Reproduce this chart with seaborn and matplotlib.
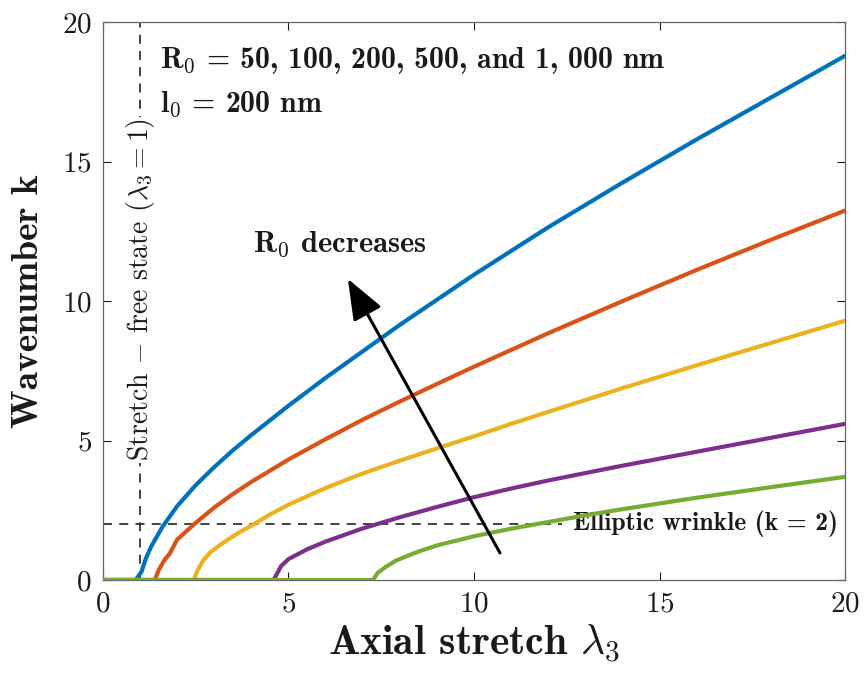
import numpy as np
import pandas as pd
import matplotlib
matplotlib.use("Agg")
import matplotlib.pyplot as plt
import seaborn as sns

# ---- data ----
radii = ["1000 nm", "500 nm", "200 nm", "100 nm", "50 nm"]  # order blue..green
colors = ["#0072BD", "#D95319", "#EDB120", "#7E2F8E", "#77AC30"]

lam_blue = [0, 0.88, 1.04, 1.15, 1.3, 1.6, 2.0, 2.5, 3, 3.5, 4, 5, 6, 7, 8, 9, 10, 11, 12, 14, 16, 18, 20]
k_blue = [0, 0, 0.3, 0.75, 1.2, 1.9, 2.65, 3.4, 4.05, 4.65, 5.2, 6.25, 7.25, 8.2, 9.15, 10.05, 10.95, 11.8, 12.65, 14.25, 15.8, 17.3, 18.8]

lam_orange = [0, 1.4, 1.5, 1.65, 1.8, 2.0, 2.5, 3, 3.5, 4, 5, 6, 7, 8, 9, 10, 11, 12, 14, 16, 18, 20]
k_orange = [0, 0, 0.35, 0.7, 0.95, 1.45, 2.05, 2.6, 3.08, 3.52, 4.32, 5.05, 5.75, 6.4, 7.03, 7.65, 8.25, 8.85, 10.0, 11.12, 12.2, 13.25]

lam_yellow = [0, 2.45, 2.55, 2.7, 2.9, 3.2, 3.6, 4, 4.5, 5, 6, 7, 8, 9, 10, 11, 12, 14, 16, 18, 20]
k_yellow = [0, 0, 0.35, 0.7, 1.0, 1.3, 1.65, 1.95, 2.35, 2.7, 3.3, 3.82, 4.28, 4.72, 5.15, 5.6, 6.03, 6.88, 7.7, 8.5, 9.3]

lam_purple = [0, 4.6, 4.7, 4.8, 5.0, 5.5, 6, 7, 8, 9, 10, 11, 12, 14, 16, 18, 20]
k_purple = [0, 0, 0.25, 0.5, 0.75, 1.1, 1.38, 1.85, 2.25, 2.62, 2.97, 3.28, 3.57, 4.1, 4.6, 5.1, 5.6]

lam_green = [0, 7.28, 7.4, 7.6, 7.9, 8.5, 9, 10, 11, 12, 13, 14, 16, 18, 20]
k_green = [0, 0, 0.25, 0.45, 0.7, 1.02, 1.24, 1.57, 1.84, 2.08, 2.32, 2.54, 2.95, 3.33, 3.7]

xticks = [0, 5, 10, 15, 20]
yticks = [0, 5, 10, 15, 20]

# ---- style ----
sns.set_style("ticks")
plt.rcParams["font.family"] = ["cmr10", "DejaVu Serif"]
plt.rcParams["mathtext.fontset"] = "cm"
plt.rcParams["axes.unicode_minus"] = False
plt.rcParams["axes.formatter.use_mathtext"] = True
plt.rcParams["text.color"] = "0.1"
plt.rcParams["axes.labelcolor"] = "0.1"

frames = []
for name, lx, ky in zip(radii,
                        [lam_blue, lam_orange, lam_yellow, lam_purple, lam_green],
                        [k_blue, k_orange, k_yellow, k_purple, k_green]):
    frames.append(pd.DataFrame({"lam": lx, "k": ky, "R0": name}))
df = pd.concat(frames, ignore_index=True)

fig = plt.figure(figsize=(8.65, 6.76), dpi=100)
ax = fig.add_axes([0.119, 0.142, 0.858, 0.825])

# reference lines
ax.axvline(1, color="0.2", lw=1.3, ls=(0, (5, 4)), zorder=1)
ax.axhline(2, color="0.2", lw=1.3, ls=(0, (5, 4)), zorder=1)

sns.lineplot(data=df, x="lam", y="k", hue="R0", hue_order=radii, palette=colors,
             lw=3.0, legend=False, sort=False, estimator=None, ax=ax, zorder=3)

ax.set_xlim(0, 20)
ax.set_ylim(0, 20)
ax.set_xticks(xticks)
ax.set_yticks(yticks)
ax.tick_params(direction="in", length=6, width=0.8, top=True, right=True,
               labelsize=21, colors="0.1", pad=8)
for s in ax.spines.values():
    s.set_visible(True)
    s.set_color("0.4")
    s.set_linewidth(0.9)

bold = dict(family="cmb10")
ax.set_xlabel(r"Axial stretch $\lambda_3$", fontsize=30, labelpad=4, **bold)
ax.set_ylabel("Wavenumber k", fontsize=27, labelpad=12, **bold)

# annotations
ax.text(1.54, 18.64, r"R$_\mathbf{0}$ = 50, 100, 200, 500, and 1, 000 nm",
        fontsize=21.5, ha="left", va="center", zorder=5, **bold)
ax.text(1.54, 17.06, r"l$_\mathbf{0}$ = 200 nm",
        fontsize=21.5, ha="left", va="center", zorder=5, **bold)
ax.text(4.04, 12.05, r"R$_\mathbf{0}$ decreases",
        fontsize=22, ha="left", va="center", zorder=5, **bold)
ax.text(12.67, 2.0, "Elliptic wrinkle (k = 2)",
        fontsize=18.5, ha="left", va="center", zorder=2,
        bbox=dict(facecolor="white", edgecolor="none", pad=8), **bold)
ax.text(1.0, 4.25, r"Stretch $-$ free state $(\lambda_3 = 1)$",
        fontsize=20, ha="center", va="bottom", rotation=90, zorder=2,
        bbox=dict(facecolor="white", edgecolor="none", pad=1))

ax.annotate("", xy=(6.6, 10.8), xytext=(10.7, 0.97),
            arrowprops=dict(arrowstyle="-|>,head_length=0.9,head_width=0.35",
                            lw=2.2, color="k", mutation_scale=28, shrinkA=0, shrinkB=0),
            zorder=6)

fig.savefig("out.png", dpi=100)
